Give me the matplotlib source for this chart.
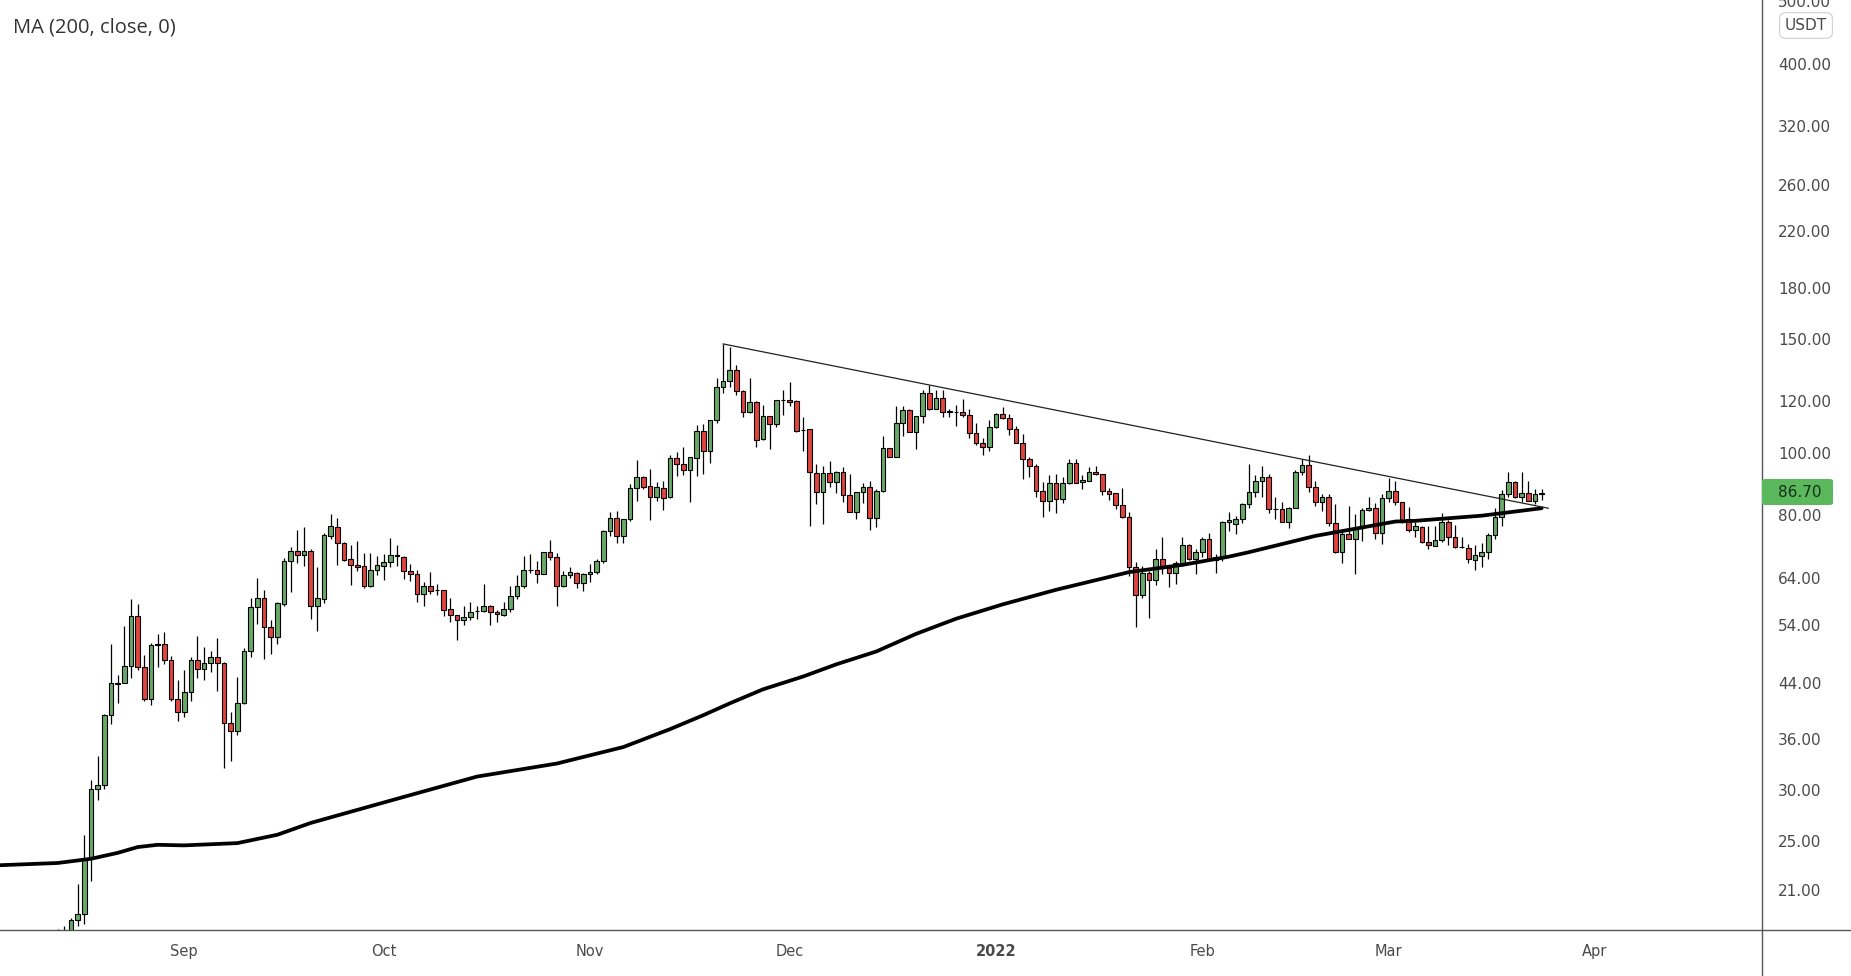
import numpy as np
import pandas as pd
import matplotlib.pyplot as plt
import matplotlib.dates as mdates
from matplotlib.lines import Line2D
from matplotlib.patches import FancyBboxPatch

plt.switch_backend('Agg')

# daily candles, 2021-08-13 .. 2022-03-24
start_date = '2021-08-13'
opens = [17.0, 17.6, 17.9, 18.9, 19.3, 23.5, 30.1, 30.6, 39.3, 43.8,
         43.9, 46.8, 55.8, 46.5, 41.5, 50.6, 50.5, 47.7, 41.6, 39.6,
         42.6, 47.8, 46.2, 47.3, 48.2, 47.3, 38.1, 37.0, 41.0, 49.3,
         57.6, 59.6, 53.6, 51.9, 58.2, 67.9, 70.5, 69.4, 70.5, 57.9,
         59.4, 74.4, 76.6, 72.5, 68.5, 67.0, 66.7, 62.1, 65.7, 66.8,
         67.8, 69.2, 69.0, 65.5, 64.9, 60.5, 62.2, 61.2, 61.2, 57.2,
         56.0, 55.0, 55.6, 56.8, 56.8, 57.9, 56.7, 56.0, 57.3, 59.9,
         62.1, 65.7, 65.7, 64.9, 70.1, 69.0, 62.1, 64.6, 65.2, 62.9,
         64.8, 65.3, 68.0, 75.6, 79.2, 74.3, 78.8, 88.0, 91.5, 88.8,
         85.5, 88.0, 85.3, 98.0, 95.9, 94.0, 98.0, 108.0, 100.7, 112.3,
         126.2, 129.1, 134.4, 124.6, 115.4, 119.8, 104.9, 113.9, 110.6, 120.6,
         120.7, 120.2, 108.4, 108.6, 93.1, 86.8, 93.1, 89.9, 93.4, 86.0,
         80.8, 86.8, 88.4, 79.2, 87.3, 101.5, 98.6, 111.0, 116.4, 107.7,
         113.9, 123.6, 117.0, 121.5, 115.7, 115.7, 115.4, 114.2, 107.4, 103.4,
         102.1, 109.7, 114.6, 113.2, 108.6, 103.6, 97.6, 95.4, 87.2, 84.2,
         89.6, 84.6, 89.8, 96.2, 89.9, 90.4, 93.3, 92.6, 87.2, 86.5,
         82.9, 79.4, 66.5, 60.2, 65.0, 63.4, 68.4, 66.2, 65.0, 67.4,
         72.0, 68.4, 70.1, 73.6, 68.2, 68.8, 78.0, 77.4, 78.9, 83.3,
         86.8, 90.2, 91.6, 81.8, 81.8, 78.1, 82.2, 93.3, 95.8, 88.6,
         83.9, 85.3, 77.7, 70.2, 74.8, 73.6, 76.4, 81.5, 82.2, 75.2,
         85.0, 87.2, 83.7, 78.8, 76.0, 76.7, 72.6, 71.7, 73.3, 78.0,
         74.0, 71.4, 71.2, 68.2, 69.2, 70.1, 74.6, 79.4, 86.3, 89.9,
         85.2, 86.6, 84.2, 86.3]
highs = [18.3, 18.5, 19.0, 21.5, 25.6, 31.1, 33.9, 39.4, 50.5, 45.2,
         53.9, 59.3, 58.3, 48.6, 50.8, 52.4, 52.8, 48.4, 44.4, 46.0,
         48.2, 52.0, 50.0, 49.3, 51.6, 47.4, 39.7, 44.9, 49.9, 59.6,
         64.0, 61.3, 55.0, 58.7, 68.6, 71.4, 75.9, 76.8, 71.0, 66.5,
         75.2, 80.3, 79.1, 72.6, 71.9, 72.9, 69.9, 69.9, 69.2, 69.6,
         73.7, 71.9, 69.1, 67.1, 65.8, 63.0, 65.3, 62.5, 61.3, 59.6,
         56.1, 57.8, 58.6, 57.9, 62.7, 58.0, 57.1, 58.6, 62.1, 64.7,
         69.2, 69.7, 68.0, 70.2, 73.2, 69.9, 65.5, 66.5, 65.3, 65.0,
         67.1, 68.4, 75.9, 80.9, 81.1, 79.0, 89.3, 97.4, 91.9, 94.3,
         90.0, 90.4, 99.2, 100.1, 102.1, 98.5, 110.3, 110.7, 112.5, 130.3,
         147.3, 145.6, 136.4, 124.8, 130.3, 120.0, 118.5, 114.0, 120.8, 125.0,
         128.4, 120.4, 113.4, 108.8, 95.9, 95.4, 97.1, 93.5, 95.1, 92.5,
         86.9, 89.6, 90.2, 87.7, 106.0, 101.6, 118.0, 118.0, 117.0, 113.9,
         124.9, 127.3, 125.0, 124.9, 117.0, 118.5, 121.0, 117.0, 111.0, 105.2,
         112.3, 115.3, 117.8, 114.6, 110.0, 107.0, 98.3, 95.9, 90.0, 92.3,
         92.8, 91.6, 97.6, 97.6, 92.3, 94.9, 95.4, 92.8, 88.0, 86.7,
         88.2, 80.8, 67.7, 66.8, 65.5, 71.0, 73.9, 66.6, 68.0, 73.9,
         72.2, 70.9, 74.0, 75.0, 69.7, 78.4, 80.8, 79.8, 83.5, 96.0,
         92.3, 95.4, 92.8, 85.5, 83.9, 82.3, 94.0, 97.6, 99.2, 90.2,
         86.3, 86.3, 83.2, 75.4, 82.7, 80.3, 82.2, 85.2, 83.5, 86.4,
         91.2, 90.2, 83.8, 82.5, 78.1, 76.9, 76.9, 76.9, 80.7, 78.5,
         77.2, 73.9, 72.2, 71.9, 72.5, 75.0, 82.0, 87.6, 93.2, 90.4,
         93.2, 90.4, 87.7, 87.7]
lows = [16.8, 17.3, 17.6, 18.5, 18.6, 21.7, 29.0, 30.1, 38.0, 41.0,
        43.9, 44.7, 46.0, 41.3, 40.6, 46.6, 47.1, 41.3, 38.4, 38.9,
        41.3, 44.7, 44.4, 45.8, 42.8, 32.5, 33.3, 36.5, 40.8, 48.2,
        54.3, 47.9, 48.8, 50.6, 57.8, 60.8, 67.5, 66.7, 55.3, 53.0,
        58.4, 73.4, 67.0, 68.0, 62.3, 65.6, 61.8, 62.0, 64.7, 63.5,
        66.4, 66.7, 63.7, 63.2, 58.6, 57.9, 60.3, 60.2, 55.9, 54.6,
        51.3, 54.0, 55.0, 55.3, 56.6, 54.0, 54.6, 55.9, 56.7, 59.4,
        61.8, 65.2, 62.9, 64.8, 68.2, 57.8, 62.0, 64.0, 61.8, 61.0,
        63.1, 64.8, 67.5, 74.3, 72.5, 72.5, 78.4, 84.2, 87.7, 78.5,
        84.1, 81.5, 85.0, 91.9, 92.3, 83.9, 92.0, 92.5, 96.5, 111.2,
        123.8, 126.4, 122.8, 113.4, 115.0, 101.9, 104.7, 101.2, 109.7, 114.3,
        118.0, 107.5, 100.7, 77.0, 83.1, 77.6, 88.6, 86.5, 83.9, 80.8,
        78.8, 83.4, 76.0, 76.8, 87.0, 98.5, 98.5, 106.0, 107.5, 101.3,
        111.2, 116.4, 116.9, 113.6, 113.6, 110.0, 113.4, 105.5, 102.7, 99.2,
        100.7, 109.1, 112.6, 106.6, 103.4, 91.0, 91.6, 85.5, 79.4, 81.3,
        80.7, 83.5, 89.3, 89.6, 87.7, 90.2, 92.3, 86.0, 84.4, 81.7,
        79.1, 64.4, 53.6, 59.6, 55.5, 62.3, 64.9, 61.9, 62.5, 66.8,
        68.2, 64.9, 69.0, 68.0, 65.2, 68.0, 75.5, 74.8, 77.9, 82.2,
        85.2, 85.5, 80.6, 78.9, 78.0, 76.4, 82.0, 92.3, 87.0, 82.7,
        81.3, 76.9, 69.8, 67.5, 73.5, 64.9, 73.0, 81.1, 73.6, 72.2,
        83.9, 82.9, 77.7, 75.4, 73.9, 72.4, 70.9, 71.6, 72.6, 71.9,
        71.2, 71.2, 67.5, 65.9, 66.5, 68.5, 73.6, 76.9, 85.5, 84.9,
        83.9, 84.1, 83.2, 84.4]
closes = [17.6, 17.9, 18.9, 19.3, 23.5, 30.1, 30.6, 39.3, 43.9, 43.9,
          46.8, 55.8, 46.5, 41.5, 50.4, 50.4, 47.7, 41.6, 39.6, 42.6,
          47.8, 46.2, 47.3, 48.2, 47.3, 38.1, 37.0, 41.0, 49.3, 57.6,
          59.6, 53.6, 51.9, 58.4, 67.9, 70.5, 69.4, 70.5, 57.9, 59.5,
          74.6, 76.9, 72.5, 68.3, 67.0, 66.5, 62.1, 65.7, 66.9, 67.8,
          69.4, 69.3, 65.5, 64.9, 60.5, 62.2, 61.0, 61.3, 57.1, 56.0,
          55.0, 55.6, 56.7, 56.9, 57.9, 56.7, 56.2, 57.3, 59.9, 62.1,
          65.7, 65.8, 64.9, 70.1, 68.9, 62.1, 64.7, 65.3, 62.9, 64.8,
          65.3, 68.0, 75.6, 79.2, 74.3, 78.8, 88.0, 91.5, 88.6, 85.5,
          88.4, 84.9, 98.0, 95.9, 94.0, 98.3, 108.0, 100.7, 112.3, 126.2,
          129.1, 134.4, 124.6, 115.4, 119.6, 104.6, 113.9, 110.7, 120.6, 120.7,
          119.8, 108.1, 108.5, 93.4, 86.8, 93.1, 89.9, 93.4, 86.0, 80.8,
          86.8, 88.4, 79.2, 87.3, 101.5, 98.6, 111.0, 116.4, 107.7, 113.9,
          123.8, 117.0, 121.5, 115.4, 115.8, 115.6, 114.2, 107.4, 103.4, 102.1,
          109.7, 114.6, 113.2, 108.6, 103.6, 97.6, 95.4, 87.2, 84.2, 89.6,
          84.6, 89.8, 96.2, 89.8, 90.7, 93.3, 92.6, 87.2, 86.2, 82.9,
          79.4, 66.5, 60.2, 65.0, 63.4, 68.4, 66.2, 65.0, 67.4, 72.0,
          68.4, 70.1, 73.6, 68.2, 68.8, 78.0, 78.5, 78.9, 83.3, 86.8,
          90.2, 91.6, 81.8, 81.9, 78.1, 82.2, 93.4, 95.8, 88.6, 83.9,
          85.3, 77.7, 70.2, 74.8, 73.6, 76.4, 81.5, 82.2, 75.2, 85.0,
          87.2, 83.9, 78.5, 76.0, 76.9, 72.6, 72.0, 73.3, 78.0, 74.0,
          71.4, 71.5, 68.4, 69.4, 70.1, 74.6, 79.4, 86.3, 89.9, 85.2,
          86.6, 84.2, 86.3, 86.7]

# MA(200, close)
ma_dates = ['2021-08-04', '2021-08-13', '2021-08-18', '2021-08-22', '2021-08-25',
            '2021-08-28', '2021-09-01', '2021-09-09', '2021-09-15', '2021-09-20',
            '2021-10-04', '2021-10-15', '2021-10-27', '2021-11-06', '2021-11-13',
            '2021-11-18', '2021-11-22', '2021-11-27', '2021-12-03', '2021-12-08',
            '2021-12-14', '2021-12-20', '2021-12-26', '2022-01-02', '2022-01-10',
            '2022-01-21', '2022-01-29', '2022-02-05', '2022-02-08', '2022-02-18',
            '2022-02-23', '2022-03-02', '2022-03-05', '2022-03-15', '2022-03-24']
ma_values = [22.96, 23.15, 23.5, 24.0, 24.5,
             24.7, 24.65, 24.85, 25.6, 26.7,
             29.3, 31.5, 33.0, 35.0, 37.3,
             39.2, 40.9, 43.0, 45.0, 47.0,
             49.2, 52.4, 55.3, 58.2, 61.3,
             65.3, 67.0, 69.0, 70.1, 74.3,
             75.9, 78.2, 78.4, 79.85, 82.0]

# hand-drawn trendline
trend_dates = ['2021-11-21', '2022-03-25']
trend_values = [147.3, 82.0]

y_ticks = [21, 25, 30, 36, 44, 54, 64, 80, 100, 120, 150, 180, 220, 260, 320, 400, 500]
month_ticks = ['2021-09-01', '2021-10-01', '2021-11-01', '2021-12-01',
               '2022-01-01', '2022-02-01', '2022-03-01', '2022-04-01']
month_labels = ['Sep', 'Oct', 'Nov', 'Dec', '2022', 'Feb', 'Mar', 'Apr']
last_price = 86.70

UP = '#68a968'
DOWN = '#e0443e'
W, H = 1851, 976

fig = plt.figure(figsize=(W / 100, H / 100), dpi=100)
fig.patch.set_facecolor('white')
ax = fig.add_axes([0, 1 - 930 / H, 1762 / W, 930 / H])

dates = pd.date_range(start_date, periods=len(opens), freq='D')
x = mdates.date2num(dates)
o = np.array(opens)
c = np.array(closes)
up = c >= o

ax.vlines(x, lows, highs, color='black', linewidth=0.9, zorder=2)
ax.bar(x, np.abs(c - o), bottom=np.minimum(o, c), width=0.7,
       color=np.where(up, UP, DOWN), edgecolor='black', linewidth=0.8, zorder=3)

ax.plot(mdates.date2num(pd.to_datetime(ma_dates)), ma_values,
        color='black', linewidth=2.7, solid_capstyle='round',
        solid_joinstyle='round', zorder=4)
ax.plot(mdates.date2num(pd.to_datetime(trend_dates)), trend_values,
        color='#222222', linewidth=0.9, zorder=4)

ax.set_yscale('log')
ax.set_ylim(18.23, 502.0)
sep1 = mdates.date2num(pd.Timestamp('2021-09-01'))
ax.set_xlim(sep1 - 27.68, sep1 + 237.12)

ax.yaxis.tick_right()
ax.set_yticks(y_ticks)
ax.set_yticklabels(['%.2f' % v for v in y_ticks])
ax.yaxis.set_minor_locator(plt.NullLocator())
ax.set_xticks(mdates.date2num(pd.to_datetime(month_ticks)))
ax.set_xticklabels(month_labels)
ax.tick_params(axis='y', length=0, pad=11.5, labelsize=11, labelcolor='#4a4a4a')
ax.tick_params(axis='x', length=0, pad=10, labelsize=10.5, labelcolor='#4a4a4a')
for lab in ax.get_xticklabels():
    if lab.get_text() == '2022':
        lab.set_fontweight('bold')
for s in ax.spines.values():
    s.set_visible(False)

# axis frame lines, full width / height like the original
fig.add_artist(Line2D([0, 1], [1 - 930 / H, 1 - 930 / H], color='#555555', linewidth=1.0))
fig.add_artist(Line2D([1762 / W, 1762 / W], [0, 1], color='#555555', linewidth=1.0))

fig.text(13 / W, 1 - 27 / H, 'MA (200, close, 0)', fontsize=14.5, color='#333333',
         family='Open Sans', va='center', ha='left')
fig.text(1806 / W, 1 - 25.5 / H, 'USDT', fontsize=11, color='#4a4a4a', ha='center', va='center',
         bbox=dict(boxstyle='round,pad=0.35,rounding_size=0.4', facecolor='white',
                   edgecolor='#d0d0d0', linewidth=0.8))

# last price label
box = FancyBboxPatch((1762 / W, 1 - 505 / H), 71 / W, 26 / H,
                     boxstyle='round,pad=0,rounding_size=0.002', transform=fig.transFigure,
                     facecolor='#5cb85c', edgecolor='none', zorder=5)
fig.add_artist(box)
fig.text(1778 / W, 1 - 492.5 / H, '%.2f' % last_price, fontsize=11, color='#16301a',
         ha='left', va='center', zorder=6)

fig.savefig('out.png', dpi=100)
